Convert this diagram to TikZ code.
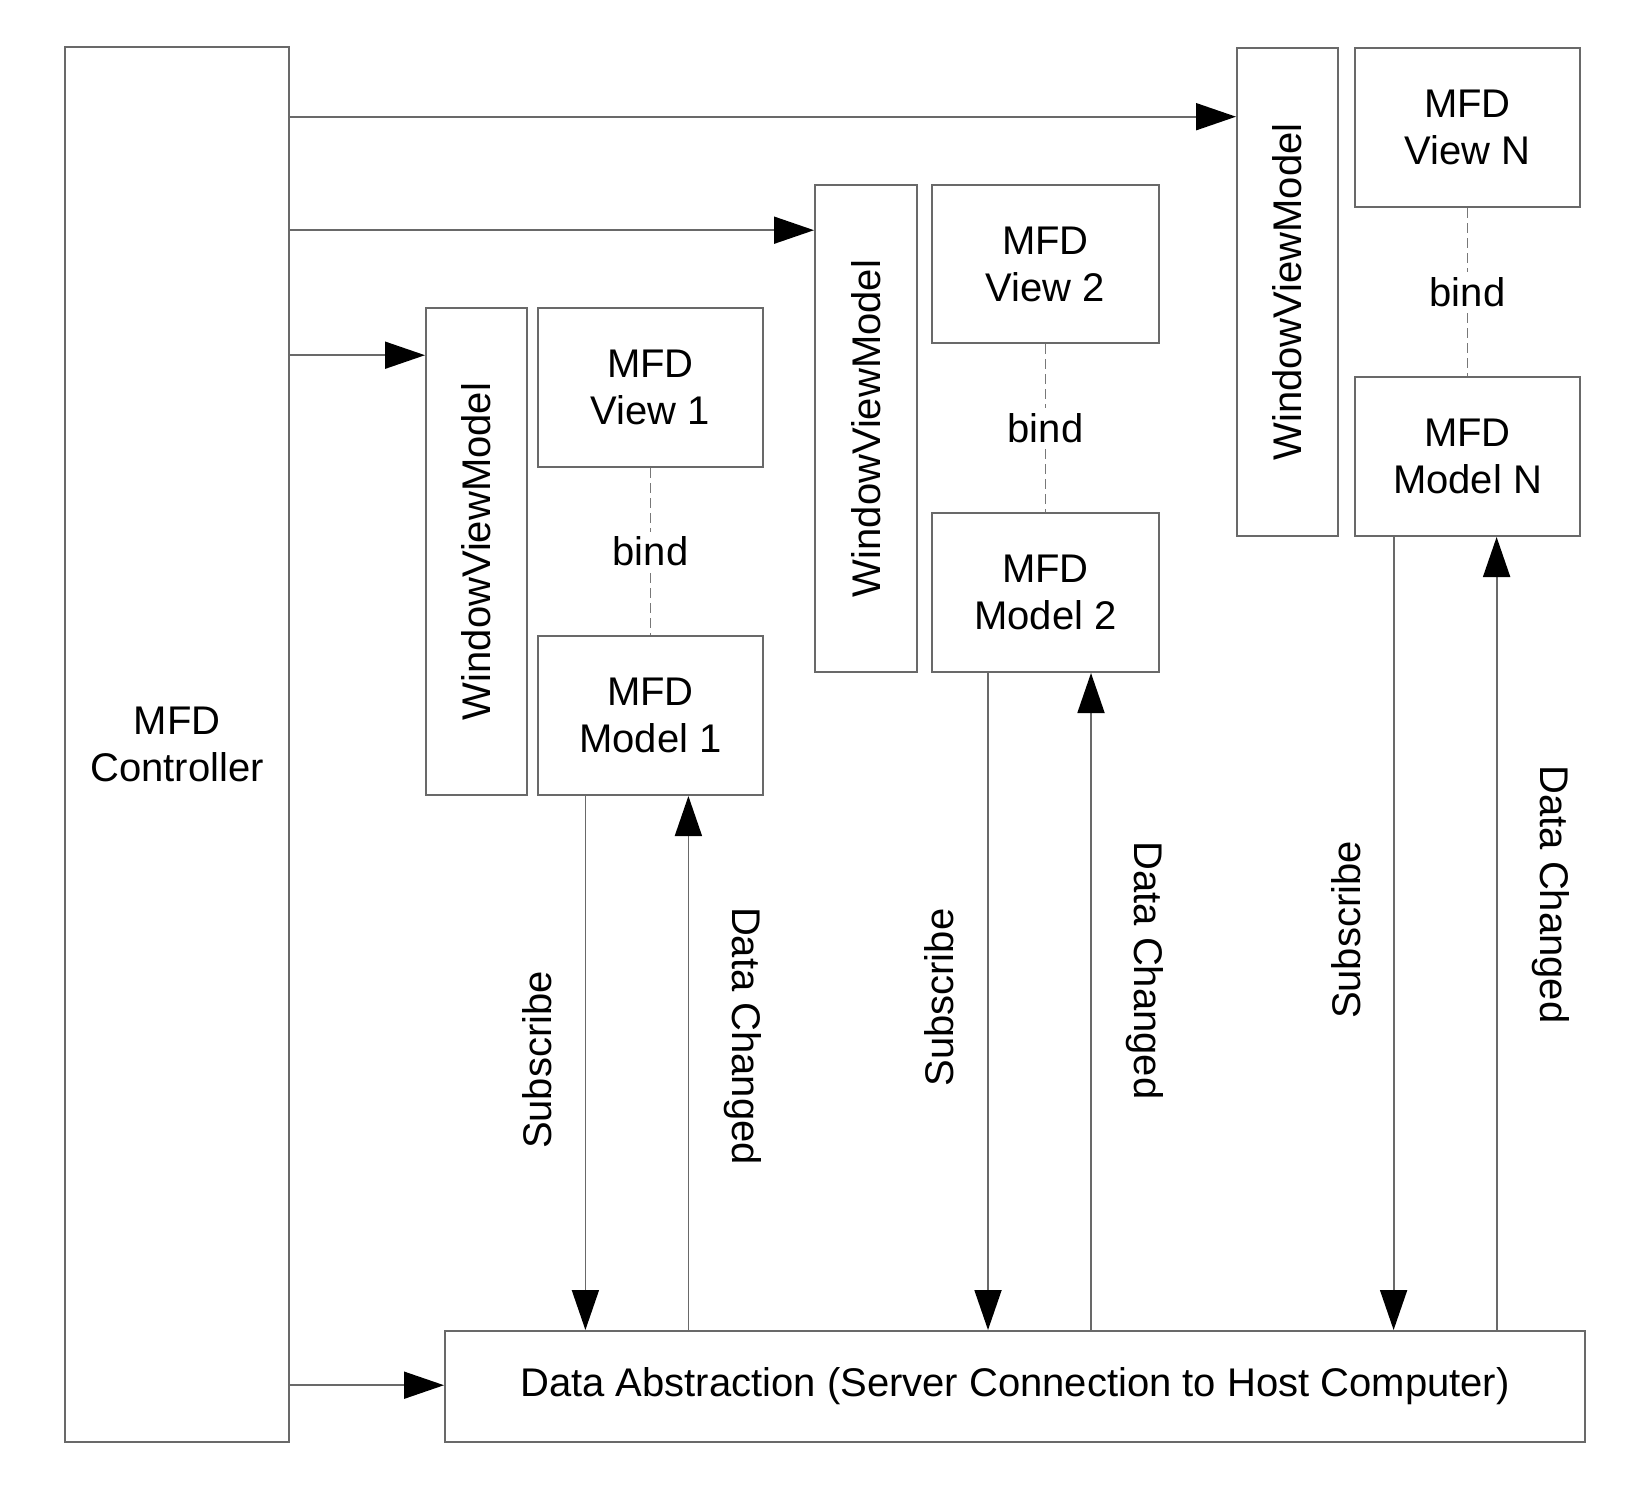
\documentclass[tikz,border=0pt]{standalone}
\usepackage{fontspec}
\setmainfont{Liberation Sans}
\usetikzlibrary{arrows.meta}
\definecolor{linegray}{RGB}{105,105,105}
\definecolor{dashgray}{RGB}{120,120,120}
\begin{document}
\begin{tikzpicture}[x=1pt,y=-1pt,
  box/.style={draw=linegray, line width=2pt, fill=white, inner sep=0pt, align=center,
    font=\fontsize{40}{47}\selectfont},
  arr/.style={draw=linegray, line width=1.8pt,
    -{Triangle[length=40pt,width=27pt,color=black,fill=black]}},
  bindline/.style={draw=dashgray, line width=1.6pt, dash pattern=on 10pt off 5pt},
  bindlbl/.style={fill=white, inner sep=5pt, font=\fontsize{40}{47}\selectfont},
  lbl/.style={inner sep=0pt, font=\fontsize{40}{47}\selectfont}]
\useasboundingbox (0,0) rectangle (1648,1496);
\fill[white] (0,0) rectangle (1648,1496);

% boxes
\node[box, minimum width=224pt, minimum height=1395pt] (ctrl) at (177,744.5) {MFD\\Controller};

\node[box, minimum width=101pt, minimum height=487pt] (wvm1) at (476.5,551.5) {\rotatebox{90}{WindowViewModel}};
\node[box, minimum width=225pt, minimum height=159pt] (view1) at (650.5,387.5) {MFD\\View 1};
\node[box, minimum width=225pt, minimum height=159pt] (model1) at (650.5,715.5) {MFD\\Model 1};

\node[box, minimum width=102pt, minimum height=487pt] (wvm2) at (866,428.5) {\rotatebox{90}{WindowViewModel}};
\node[box, minimum width=227pt, minimum height=158pt] (view2) at (1045.5,264) {MFD\\View 2};
\node[box, minimum width=227pt, minimum height=159pt] (model2) at (1045.5,592.5) {MFD\\Model 2};

\node[box, minimum width=101pt, minimum height=488pt] (wvmN) at (1287.5,292) {\rotatebox{90}{WindowViewModel}};
\node[box, minimum width=225pt, minimum height=159pt] (viewN) at (1467.5,127.5) {MFD\\View N};
\node[box, minimum width=225pt, minimum height=159pt] (modelN) at (1467.5,456.5) {MFD\\Model N};

\node[box, minimum width=1140pt, minimum height=111pt] (data) at (1015,1386.5) {Data Abstraction (Server Connection to Host Computer)};

% helper coordinates
\coordinate (yN) at (0,116.7);
\coordinate (y2) at (0,230.2);
\coordinate (y1) at (0,355.2);
\coordinate (yD) at (0,1385.2);
\coordinate (s1) at (585.4,0);
\coordinate (d1) at (688.4,0);
\coordinate (s2) at (988,0);
\coordinate (d2) at (1091,0);
\coordinate (sN) at (1393.6,0);
\coordinate (dN) at (1496.6,0);

% controller arrows
\draw[arr] (ctrl.east |- yN) -- (wvmN.west |- yN);
\draw[arr] (ctrl.east |- y2) -- (wvm2.west |- y2);
\draw[arr] (ctrl.east |- y1) -- (wvm1.west |- y1);
\draw[arr] (ctrl.east |- yD) -- (data.west |- yD);

% bind lines
\draw[bindline] (view1.south) -- node[bindlbl] {bind} (model1.north);
\draw[bindline] (view2.south) -- node[bindlbl] {bind} (model2.north);
\draw[bindline] (viewN.south) -- node[bindlbl] {bind} (modelN.north);

% subscribe / data changed
\draw[arr] (s1 |- model1.south) -- (s1 |- data.north);
\draw[arr] (d1 |- data.north) -- (d1 |- model1.south);
\draw[arr] (s2 |- model2.south) -- (s2 |- data.north);
\draw[arr] (d2 |- data.north) -- (d2 |- model2.south);
\draw[arr] (sN |- modelN.south) -- (sN |- data.north);
\draw[arr] (dN |- data.north) -- (dN |- modelN.south);

% labels
\node[lbl, rotate=90] (ls1) at (537,1060) {Subscribe};
\node[lbl, rotate=-90] (ld1) at (742.5,1036) {Data Changed};
\node[lbl, rotate=90] (ls2) at (939,997.6) {Subscribe};
\node[lbl, rotate=-90] (ld2) at (1145,970.5) {Data Changed};
\node[lbl, rotate=90] (lsN) at (1346,930) {Subscribe};
\node[lbl, rotate=-90] (ldN) at (1551,894.5) {Data Changed};
\end{tikzpicture}
\end{document}
